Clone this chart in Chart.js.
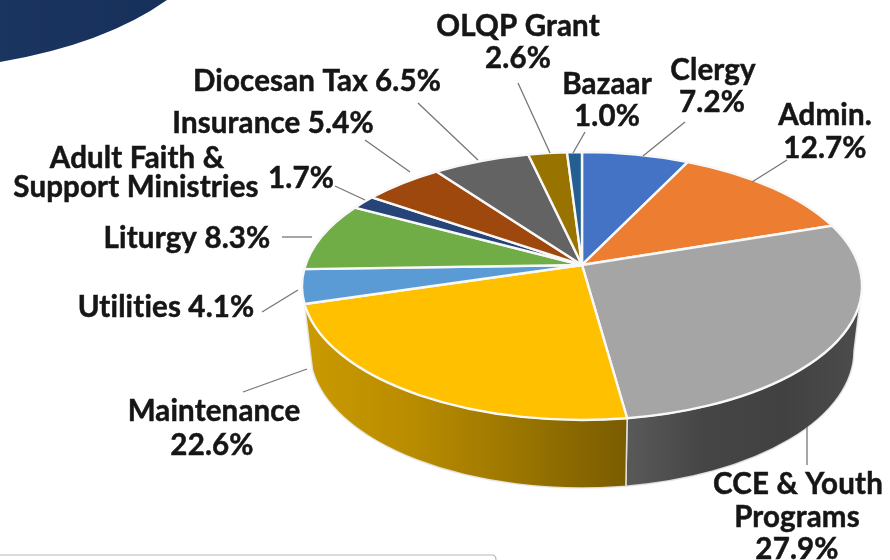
<!DOCTYPE html>
<html>
<head>
<meta charset="utf-8">
<title>Budget</title>
<script src="https://cdn.jsdelivr.net/npm/chart.js@4"></script>
<style>
html, body { margin: 0; background: #fff; }
#wrap { position: relative; width: 890px; height: 560px; overflow: hidden; }
canvas { filter: blur(0.5px); }
</style>
</head>
<body>
<div id="wrap"><canvas id="pie" width="890" height="560"></canvas></div>
<script>
// slices, clockwise from the top
const categories = ['Clergy', 'Admin.', 'CCE & Youth Programs', 'Maintenance', 'Utilities', 'Liturgy',
  'Adult Faith & Support Ministries', 'Insurance', 'Diocesan Tax', 'OLQP Grant', 'Bazaar']
const percents = [7.2, 12.7, 27.9, 22.6, 4.1, 8.3, 1.7, 5.4, 6.5, 2.6, 1.0]
const sliceColors = ['#4472C4', '#ED7D31', '#A5A5A5', '#FFC000', '#5B9BD5', '#70AD47',
  '#264478', '#9E480E', '#636363', '#997300', '#255E91']

// side wall shades, left to right
const wallShades = {
  2: ['#595959', '#454545', '#414141', '#4c4c4c'],
  3: ['#cb9a00', '#b98c00', '#9a7500', '#7a5c00']
}

// label text, one entry per line: [text, x, y]
const labelLines = [
  [['Clergy', 713, 70], ['7.2%', 712, 102]],
  [['Admin.', 825, 115], ['12.7%', 825, 148]],
  [['CCE & Youth', 798, 484], ['Programs', 797, 517], ['27.9%', 797, 549]],
  [['Maintenance', 214, 411], ['22.6%', 212, 445]],
  [['Utilities 4.1%', 166, 307]],
  [['Liturgy 8.3%', 187, 238]],
  [['Adult Faith &', 137, 158], ['Support Ministries', 136, 187], ['1.7%', 301, 178]],
  [['Insurance 5.4%', 273, 123]],
  [['Diocesan Tax 6.5%', 317, 81]],
  [['OLQP Grant', 518, 26], ['2.6%', 518, 58]],
  [['Bazaar', 607, 84], ['1.0%', 607, 116]]
]
// leader lines x1,y1,x2,y2
const leaders = [
  [685, 122, 643, 156], [787, 160, 752, 182], [807, 427, 807, 465], [243, 392, 307, 369],
  [262, 312, 298, 290], [282, 237, 312, 237], [335, 186, 365, 200], [365, 140, 410, 172],
  [418, 103, 478, 160], [518, 83, 550, 153], [585, 132, 573, 153]
]

// pie geometry on the page
const cx = 582, cy = 286, rx = 280, ry = 134
const botCx = 582, botCy = 351, botRx = 272, botRy = 137
const tilt = -0.157   // moves the apex above the ellipse centre, like the perspective in the picture
const wallEnd = 3.01

// angle on the flat circle -> angle on the tilted ellipse
function ellipseAngle(a) {
  const x = Math.cos(a), y = Math.sin(a)
  const w = 1 + tilt * y
  const u = x * Math.sqrt(1 - tilt * tilt) / w
  const v = (y + tilt) / w
  return Math.atan2(v, u)
}

class Arc3d extends Chart.ArcElement {
  static id = 'arc3d'
  draw(ctx) {
    const p1 = ellipseAngle(this.startAngle)
    const p2 = ellipseAngle(this.endAngle)
    const o = this.options
    ctx.save()
    ctx.beginPath()
    ctx.moveTo(cx, cy + tilt * ry)
    ctx.ellipse(cx, cy, rx, ry, 0, p1, p2 <= p1 ? p2 + Math.PI * 2 : p2)
    ctx.closePath()
    ctx.fillStyle = o.backgroundColor
    ctx.fill()
    ctx.lineWidth = o.borderWidth
    ctx.strokeStyle = o.borderColor
    ctx.lineJoin = 'round'
    ctx.stroke()
    ctx.restore()
  }
}

class Pie3dController extends Chart.PieController {
  static id = 'pie3d'
  static defaults = { dataElementType: 'arc3d' }
  draw() {
    const ctx = this.chart.ctx
    const arcs = this.getMeta().data
    for (let i = 0; i < arcs.length; i++) {
      const shades = wallShades[i]
      if (!shades) continue
      const a = Math.max(ellipseAngle(arcs[i].startAngle), 0)
      const b = Math.min(ellipseAngle(arcs[i].endAngle), wallEnd)
      const xa = cx + rx * Math.cos(a), xb = cx + rx * Math.cos(b)
      const g = ctx.createLinearGradient(Math.min(xa, xb), 0, Math.max(xa, xb), 0)
      shades.forEach((c, n) => g.addColorStop(n / (shades.length - 1), c))
      ctx.save()
      ctx.beginPath()
      ctx.ellipse(cx, cy, rx, ry, 0, a, b)
      ctx.ellipse(botCx, botCy, botRx, botRy, 0, b, a, true)
      ctx.closePath()
      ctx.fillStyle = g
      ctx.fill()
      ctx.lineWidth = 1.5
      ctx.strokeStyle = 'rgba(232,232,232,0.9)'
      ctx.stroke()
      ctx.restore()
    }
    super.draw()
  }
}

Chart.register(Arc3d, Pie3dController)

// navy corner and the box edge at the bottom of the slide
const decor = {
  id: 'decor',
  beforeDraw(chart) {
    const ctx = chart.ctx
    ctx.save()
    const g = ctx.createLinearGradient(0, 0, 170, 0)
    g.addColorStop(0, '#1a3560')
    g.addColorStop(1, '#16305a')
    ctx.fillStyle = g
    ctx.beginPath()
    ctx.moveTo(0, 0)
    ctx.lineTo(167, 0)
    ctx.quadraticCurveTo(105, 44, 0, 62)
    ctx.closePath()
    ctx.fill()
    ctx.strokeStyle = '#b5b5b5'
    ctx.lineWidth = 1.2
    ctx.beginPath()
    ctx.moveTo(0, 555)
    ctx.lineTo(492, 555)
    ctx.quadraticCurveTo(496, 555, 496, 560)
    ctx.stroke()
    ctx.restore()
  }
}

const callouts = {
  id: 'callouts',
  afterDraw(chart) {
    const ctx = chart.ctx
    ctx.save()
    ctx.strokeStyle = '#767676'
    ctx.lineWidth = 1.3
    leaders.forEach(l => {
      ctx.beginPath()
      ctx.moveTo(l[0], l[1])
      ctx.lineTo(l[2], l[3])
      ctx.stroke()
    })
    ctx.fillStyle = '#161616'
    ctx.strokeStyle = '#161616'
    ctx.lineWidth = 0.5
    ctx.font = 'bold 29.5px Lato'
    ctx.letterSpacing = '0.15px'   // also stops the "ti" ligature
    ctx.textAlign = 'center'
    ctx.textBaseline = 'middle'
    labelLines.forEach(lines => lines.forEach(t => {
      ctx.fillText(t[0], t[1], t[2])
      ctx.strokeText(t[0], t[1], t[2])
    }))
    ctx.restore()
  }
}

new Chart(document.getElementById('pie').getContext('2d'), {
  type: 'pie3d',
  data: {
    labels: categories,
    datasets: [{
      data: percents,
      backgroundColor: sliceColors,
      borderColor: '#f8f8f8',
      borderWidth: 2.4
    }]
  },
  options: {
    responsive: false,
    animation: false,
    devicePixelRatio: 1,
    plugins: { legend: { display: false }, tooltip: { enabled: false } }
  },
  plugins: [decor, callouts]
})
</script>
</body>
</html>
